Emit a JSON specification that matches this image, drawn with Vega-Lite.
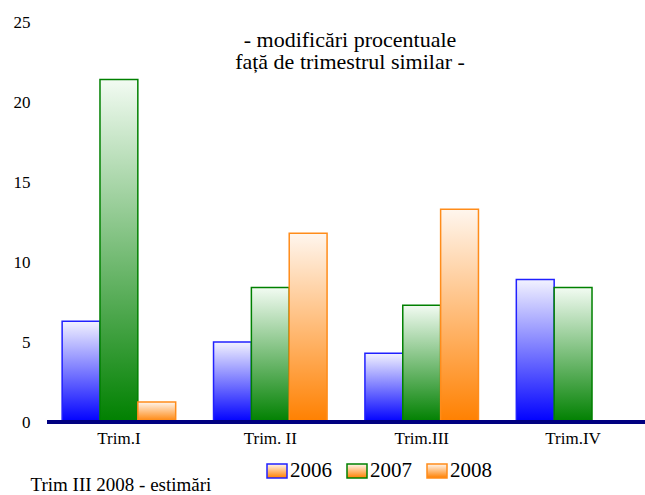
{
  "$schema": "https://vega.github.io/schema/vega-lite/v6.json",
  "width": 598,
  "height": 400,
  "autosize": "none",
  "padding": {"left": 47, "top": 22, "right": 0, "bottom": 73},
  "background": "white",
  "config": {
    "view": {"stroke": null},
    "font": "Liberation Serif"
  },
  "title": {
    "text": ["- modificări procentuale", "față de trimestrul similar -"],
    "fontSize": 22,
    "font": "Liberation Serif",
    "fontWeight": "normal",
    "color": "black",
    "anchor": "middle",
    "frame": "group",
    "offset": -61,
    "dx": 4,
    "lineHeight": 22
  },
  "data": {
    "values": [
      {"trim": "Trim.I", "year": "2006", "value": 6.3},
      {"trim": "Trim.I", "year": "2007", "value": 21.4},
      {"trim": "Trim.I", "year": "2008", "value": 1.25},
      {"trim": "Trim. II", "year": "2006", "value": 5.0},
      {"trim": "Trim. II", "year": "2007", "value": 8.4},
      {"trim": "Trim. II", "year": "2008", "value": 11.8},
      {"trim": "Trim.III", "year": "2006", "value": 4.3},
      {"trim": "Trim.III", "year": "2007", "value": 7.3},
      {"trim": "Trim.III", "year": "2008", "value": 13.3},
      {"trim": "Trim.IV", "year": "2006", "value": 8.9},
      {"trim": "Trim.IV", "year": "2007", "value": 8.4}
    ]
  },
  "layer": [
    {
      "mark": {"type": "bar", "strokeWidth": 1.5},
      "encoding": {
        "x": {
          "field": "trim",
          "type": "nominal",
          "sort": ["Trim.I", "Trim. II", "Trim.III", "Trim.IV"],
          "scale": {"paddingInner": 0.25, "paddingOuter": 0.1},
          "axis": {
            "labelAngle": 0,
            "domain": false,
            "ticks": false,
            "labelFont": "Liberation Serif",
            "labelFontSize": 17,
            "labelColor": "black",
            "labelPadding": 8,
            "title": "Trim III 2008 - estimări",
            "titleFont": "Liberation Serif",
            "titleFontSize": 19,
            "titleFontWeight": "normal",
            "titleColor": "black",
            "titleX": -17,
            "titleY": 68,
            "titleAlign": "left",
            "titleBaseline": "alphabetic"
          }
        },
        "xOffset": {
          "field": "year",
          "type": "nominal",
          "scale": {"domain": ["2006", "2007", "2008"], "paddingInner": 0, "paddingOuter": 0}
        },
        "y": {
          "field": "value",
          "type": "quantitative",
          "scale": {"domain": [0, 25], "nice": false},
          "axis": {
            "values": [0, 5, 10, 15, 20, 25],
            "domain": false,
            "ticks": false,
            "grid": false,
            "title": null,
            "labelFont": "Liberation Serif",
            "labelFontSize": 17,
            "labelColor": "black",
            "labelPadding": 17
          }
        },
        "fill": {
          "condition": [
            {"test": "datum.year === '2006'", "value": {"gradient": "linear", "x1": 0, "y1": 0, "x2": 0, "y2": 1, "stops": [{"offset": 0, "color": "#f2f2ff"}, {"offset": 1, "color": "#0000ff"}]}},
            {"test": "datum.year === '2007'", "value": {"gradient": "linear", "x1": 0, "y1": 0, "x2": 0, "y2": 1, "stops": [{"offset": 0, "color": "#f2fbf2"}, {"offset": 1, "color": "#008000"}]}}
          ],
          "value": {"gradient": "linear", "x1": 0, "y1": 0, "x2": 0, "y2": 1, "stops": [{"offset": 0, "color": "#fff6ee"}, {"offset": 1, "color": "#ff8000"}]}
        },
        "stroke": {
          "field": "year",
          "type": "nominal",
          "scale": {"domain": ["2006", "2007", "2008"], "range": ["#2020ff", "#008000", "#ff8c1a"]},
          "legend": {
            "title": null,
            "orient": "none",
            "legendX": 219,
            "legendY": 438,
            "direction": "horizontal",
            "padding": 0,
            "symbolType": "M-1,-0.7H1V0.7H-1Z",
            "symbolSize": 400,
            "symbolStrokeWidth": 1.5,
            "labelFont": "Liberation Serif",
            "labelFontSize": 21,
            "labelColor": "black",
            "labelOffset": 2,
            "columnPadding": 12,
            "encode": {
              "symbols": {
                "update": {
                  "fill": [
                    {"test": "datum.value === '2006'", "value": {"gradient": "linear", "x1": 0, "y1": 0, "x2": 0, "y2": 1, "stops": [{"offset": 0, "color": "#f2f2ff"}, {"offset": 1, "color": "#0000ff"}]}},
                    {"test": "datum.value === '2007'", "value": {"gradient": "linear", "x1": 0, "y1": 0, "x2": 0, "y2": 1, "stops": [{"offset": 0, "color": "#f2fbf2"}, {"offset": 1, "color": "#008000"}]}},
                    {"value": {"gradient": "linear", "x1": 0, "y1": 0, "x2": 0, "y2": 1, "stops": [{"offset": 0, "color": "#fff6ee"}, {"offset": 1, "color": "#ff8000"}]}}
                  ],
                  "fillOpacity": {"value": 1}
                }
              }
            }
          }
        }
      }
    },
    {
      "mark": {"type": "rule", "color": "#000080", "strokeWidth": 3},
      "encoding": {"y": {"datum": 0}}
    }
  ]
}
